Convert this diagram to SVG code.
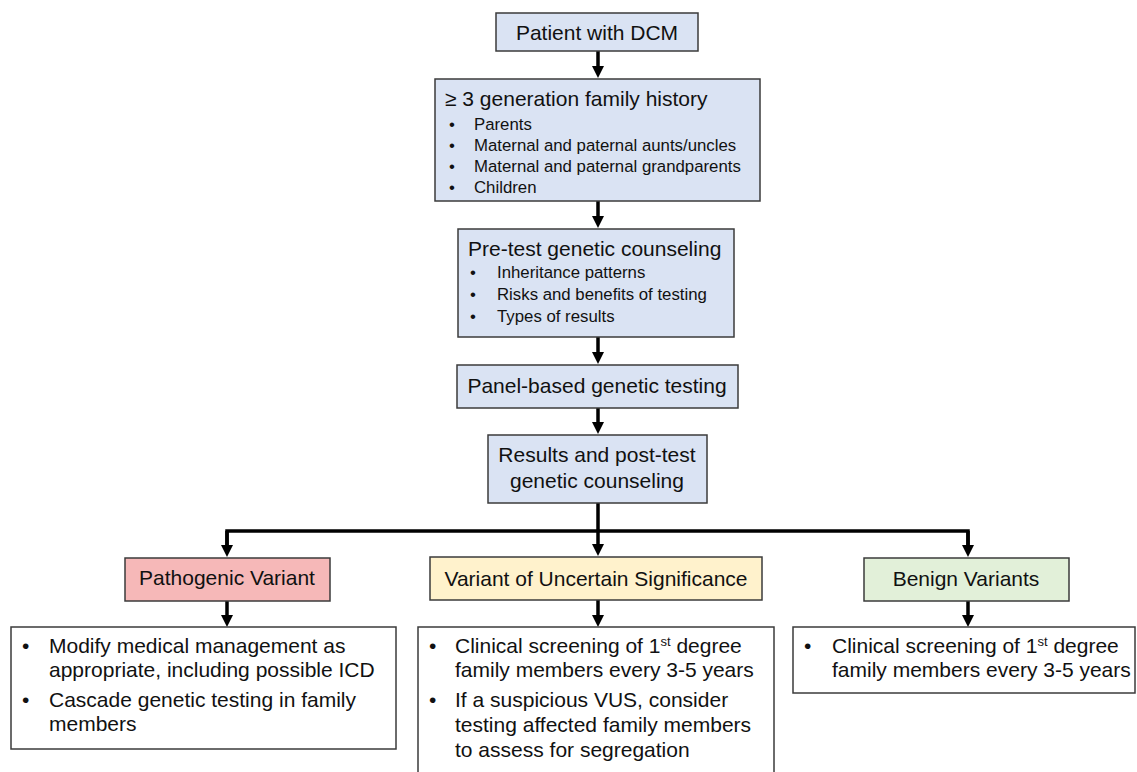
<svg xmlns="http://www.w3.org/2000/svg" width="1137" height="772" viewBox="0 0 1137 772">
<style>
.bx{stroke:#3b3b3b;stroke-width:1.5}
.blue{fill:#dae3f3}
.pink{fill:#f6b8b8}
.yel{fill:#fff2cc}
.grn{fill:#e2f0d9}
.wht{fill:#ffffff}
text{font-family:"Liberation Sans",Arial,sans-serif;fill:#111}
.t{font-size:21px}
.s{font-size:16.8px}
.c{text-anchor:middle}
.ln{stroke:#000;stroke-width:3.5;fill:none}
.sup{font-size:13px}
</style>
<defs>
<marker id="ah" viewBox="0 0 12 12" markerWidth="12" markerHeight="12" markerUnits="userSpaceOnUse" refX="0" refY="6" orient="auto">
<path d="M0,0 L12,6 L0,12 z" fill="#000"/>
</marker>
</defs>
<rect width="1137" height="772" fill="#fff"/>
<g id="connectors">
<path class="ln" d="M598,51 V66" marker-end="url(#ah)"/>
<path class="ln" d="M598,201 V216" marker-end="url(#ah)"/>
<path class="ln" d="M598,337 V352" marker-end="url(#ah)"/>
<path class="ln" d="M598,408 V422" marker-end="url(#ah)"/>
<path class="ln" d="M598,503 V544" marker-end="url(#ah)"/>
<path class="ln" d="M227,545 V531 H968 V545"/>
<path class="ln" d="M227,531 V545" marker-end="url(#ah)"/>
<path class="ln" d="M968,531 V545" marker-end="url(#ah)"/>
<path class="ln" d="M227,601 V615" marker-end="url(#ah)"/>
<path class="ln" d="M598,600 V615" marker-end="url(#ah)"/>
<path class="ln" d="M968,601 V615" marker-end="url(#ah)"/>
</g>
<g id="patient">
<rect class="bx blue" x="496" y="13" width="202" height="38"/>
<text class="t c" x="597" y="40">Patient with DCM</text>
</g>
<g id="family-history">
<rect class="bx blue" x="435" y="79" width="325" height="122"/>
<text class="t" x="445" y="106">≥ 3 generation family history</text>
<text class="s" x="449" y="130">•</text><text class="s" x="474" y="130">Parents</text>
<text class="s" x="449" y="151">•</text><text class="s" x="474" y="151">Maternal and paternal aunts/uncles</text>
<text class="s" x="449" y="172">•</text><text class="s" x="474" y="172">Maternal and paternal grandparents</text>
<text class="s" x="449" y="193">•</text><text class="s" x="474" y="193">Children</text>
</g>
<g id="pretest">
<rect class="bx blue" x="458" y="229" width="276" height="108"/>
<text class="t" x="468" y="256">Pre-test genetic counseling</text>
<text class="s" x="470" y="278">•</text><text class="s" x="497" y="278">Inheritance patterns</text>
<text class="s" x="470" y="300">•</text><text class="s" x="497" y="300">Risks and benefits of testing</text>
<text class="s" x="470" y="322">•</text><text class="s" x="497" y="322">Types of results</text>
</g>
<g id="panel">
<rect class="bx blue" x="457" y="365" width="281" height="43"/>
<text class="t c" x="597" y="393">Panel-based genetic testing</text>
</g>
<g id="results">
<rect class="bx blue" x="488" y="435" width="219" height="68"/>
<text class="t c" x="597" y="462">Results and post-test</text>
<text class="t c" x="597" y="488">genetic counseling</text>
</g>
<g id="pathogenic">
<rect class="bx pink" x="125" y="558" width="205" height="43"/>
<text class="t c" x="227" y="585">Pathogenic Variant</text>
</g>
<g id="vus">
<rect class="bx yel" x="430" y="557" width="332" height="43"/>
<text class="t c" x="596" y="586">Variant of Uncertain Significance</text>
</g>
<g id="benign">
<rect class="bx grn" x="864" y="558" width="205" height="43"/>
<text class="t c" x="966" y="586">Benign Variants</text>
</g>
<g id="pathogenic-actions">
<rect class="bx wht" x="11" y="627" width="385" height="122"/>
<text class="t" x="22" y="653">•</text><text class="t" x="49" y="653">Modify medical management as</text>
<text class="t" x="49" y="677">appropriate, including possible ICD</text>
<text class="t" x="22" y="707">•</text><text class="t" x="49" y="707">Cascade genetic testing in family</text>
<text class="t" x="49" y="731">members</text>
</g>
<g id="vus-actions">
<rect class="bx wht" x="418" y="627" width="356" height="160"/>
<text class="t" x="429" y="653">•</text><text class="t" x="455" y="653">Clinical screening of 1<tspan class="sup" dy="-7">st</tspan><tspan dy="7"> degree</tspan></text>
<text class="t" x="455" y="677">family members every 3-5 years</text>
<text class="t" x="429" y="707">•</text><text class="t" x="455" y="707">If a suspicious VUS, consider</text>
<text class="t" x="455" y="732">testing affected family members</text>
<text class="t" x="455" y="757">to assess for segregation</text>
</g>
<g id="benign-actions">
<rect class="bx wht" x="793" y="627" width="342" height="66"/>
<text class="t" x="804" y="653">•</text><text class="t" x="832" y="653">Clinical screening of 1<tspan class="sup" dy="-7">st</tspan><tspan dy="7"> degree</tspan></text>
<text class="t" x="832" y="677">family members every 3-5 years</text>
</g>
</svg>
